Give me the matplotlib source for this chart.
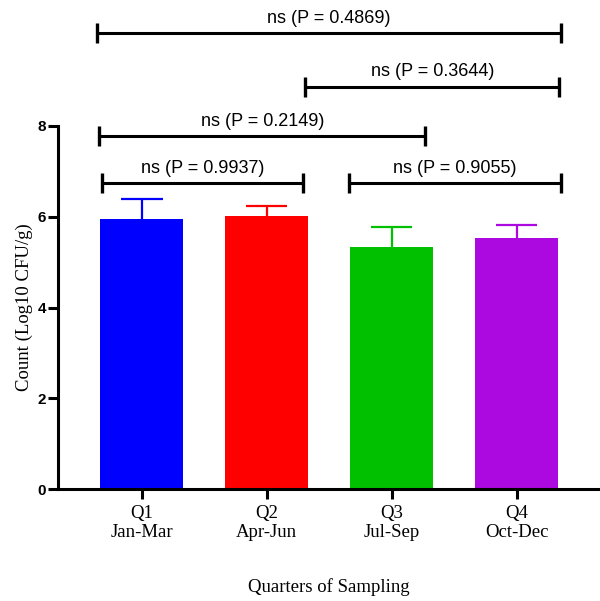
import matplotlib
matplotlib.use("Agg")
import matplotlib.pyplot as plt
import numpy as np

# ---- data ----
quarters = ["Q1\nJan-Mar", "Q2\nApr-Jun", "Q3\nJul-Sep", "Q4\nOct-Dec"]
means = [5.95, 6.02, 5.34, 5.54]
upper_err = [0.43, 0.21, 0.44, 0.27]
colors = ["#0000FF", "#FF0000", "#00C000", "#AC08E0"]

# significance comparisons (x start, x end, y level, label)
cmp_x_start = [-0.358, 1.308, -0.34, -0.318, 1.66]
cmp_x_end = [3.354, 3.342, 2.268, 1.294, 3.356]
cmp_y = [10.03, 8.86, 7.77, 6.73, 6.73]
cmp_labels = ["ns (P = 0.4869)", "ns (P = 0.3644)", "ns (P = 0.2149)",
              "ns (P = 0.9937)", "ns (P = 0.9055)"]

y_ticks = [0, 2, 4, 6, 8]

fig = plt.figure(figsize=(6.0, 6.01), dpi=100)
ax = fig.add_axes([0.0972, 0.1859, 1 - 0.0972, 0.7908 - 0.1859])

x = np.arange(len(quarters))
ax.bar(x, means, width=0.664, color=colors, zorder=2)
cap_half = 0.166
for xi, m, e, c in zip(x, means, upper_err, colors):
    top = m + e
    ax.plot([xi, xi], [m, top], color=c, lw=1.6, zorder=1,
            solid_capstyle="butt")
    ax.plot([xi - cap_half, xi + cap_half], [top, top], color=c, lw=1.6,
            zorder=1, solid_capstyle="butt")

ax.set_xlim(-0.668, 3.668)
ax.set_ylim(0, 8)
ax.set_yticks(y_ticks)
ax.set_yticklabels([str(t) for t in y_ticks], fontfamily="Liberation Sans",
                   fontweight="bold", fontsize=11)
ax.set_xticks(x)
ax.set_xticklabels(quarters, fontfamily="Liberation Serif", fontsize=13.5,
                   linespacing=1.15)

for s in ["top", "right"]:
    ax.spines[s].set_visible(False)
for s in ["left", "bottom"]:
    ax.spines[s].set_linewidth(2.2)
ax.tick_params(axis="both", length=7, width=2.2, direction="out")
ax.tick_params(axis="y", pad=2)
ax.tick_params(axis="x", pad=4)

ax.set_ylabel("Count (Log10 CFU/g)", fontfamily="Liberation Serif",
              fontsize=13.5, labelpad=3)
ax.set_xlabel("Quarters of Sampling", fontfamily="Liberation Serif",
              fontsize=13.5, labelpad=27)

# significance brackets
tick_h = 0.22
for xs, xe, yy, lab in zip(cmp_x_start, cmp_x_end, cmp_y, cmp_labels):
    ax.plot([xs, xe], [yy, yy], color="black", lw=2.2, clip_on=False,
            solid_capstyle="butt", zorder=3)
    for xx in (xs, xe):
        ax.plot([xx, xx], [yy - tick_h, yy + tick_h], color="black", lw=2.4,
                clip_on=False, solid_capstyle="butt", zorder=3)
    ax.annotate(lab, xy=((xs + xe) / 2, yy), xytext=(0, 7.5),
                textcoords="offset points", ha="center", va="baseline",
                fontfamily="Liberation Sans", fontsize=13, annotation_clip=False)

fig.savefig("out.png", dpi=100)
